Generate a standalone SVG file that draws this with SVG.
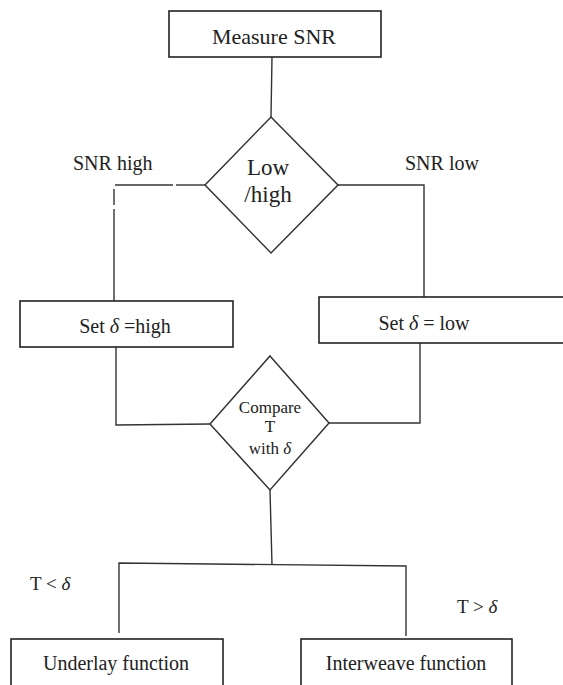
<svg xmlns="http://www.w3.org/2000/svg" width="563" height="685" viewBox="0 0 563 685" font-family="'Liberation Serif', 'Times New Roman', 'DejaVu Serif', serif">
<style>
.box{fill:#fff;stroke:#222;stroke-width:1.6}
.dia{fill:#fff;stroke:#333;stroke-width:1.5}
.ln{fill:none;stroke:#333;stroke-width:1.4}
text{font-family:'Liberation Serif','Times New Roman','DejaVu Serif',serif;fill:#222}
.c{text-anchor:middle}
.d{font-style:italic}
</style>
<rect width="563" height="685" fill="#fff"/>
<g id="connectors">
<line class="ln" x1="272" y1="57" x2="271" y2="117"/>
<polyline class="ln" points="205,185 176,185"/>
<polyline class="ln" points="173,185 115,185"/>
<line class="ln" x1="114" y1="189" x2="114" y2="205"/>
<line class="ln" x1="114" y1="209" x2="114" y2="301"/>
<polyline class="ln" points="338,185 424,185 424,297"/>
<polyline class="ln" points="116,347 116,425 210,424"/>
<polyline class="ln" points="420,343 420,423 329,423"/>
<line class="ln" x1="270" y1="490" x2="272" y2="565"/>
<polyline class="ln" points="119,633 119,563 406,566 406,636"/>
</g>
<g id="measure">
<rect class="box" x="169" y="11" width="212" height="46"/>
<text class="c" x="274" y="44" font-size="22">Measure SNR</text>
</g>
<g id="lowhigh">
<polygon class="dia" points="271,117 338,185 271,253 205,185"/>
<text class="c" x="268" y="175" font-size="23">Low</text>
<text class="c" x="268" y="202" font-size="23">/high</text>
</g>
<g id="label-snrhigh"><text x="73" y="170" font-size="20">SNR high</text></g>
<g id="label-snrlow"><text x="405" y="170" font-size="20">SNR low</text></g>
<g id="sethigh">
<rect class="box" x="20" y="301" width="213" height="46"/>
<text class="c" x="125" y="333" font-size="20">Set <tspan class="d">δ</tspan> =high</text>
</g>
<g id="setlow">
<rect class="box" x="319" y="297" width="250" height="46"/>
<text class="c" x="424" y="330" font-size="20">Set <tspan class="d">δ</tspan> = low</text>
</g>
<g id="compare">
<polygon class="dia" points="270,356 329,423 270,490 210,424"/>
<text class="c" x="270" y="413" font-size="17">Compare</text>
<text class="c" x="270" y="432" font-size="17">T</text>
<text class="c" x="270" y="454" font-size="17">with <tspan class="d">δ</tspan></text>
</g>
<g id="label-tlt"><text x="30" y="590" font-size="19">T &lt; <tspan class="d">δ</tspan></text></g>
<g id="label-tgt"><text x="457" y="613" font-size="19">T &gt; <tspan class="d">δ</tspan></text></g>
<g id="underlay">
<rect class="box" x="11" y="639" width="212" height="60"/>
<text class="c" x="116" y="670" font-size="20">Underlay function</text>
</g>
<g id="interweave">
<rect class="box" x="301" y="639" width="211" height="60"/>
<text class="c" x="406" y="670" font-size="20">Interweave function</text>
</g>
</svg>
